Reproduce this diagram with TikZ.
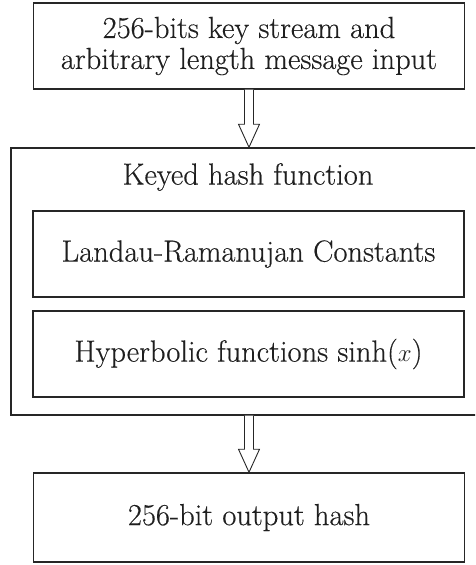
\documentclass[tikz,border=0pt]{standalone}
\usepackage{fontspec}
\setmainfont{Latin Modern Roman}[FakeBold=0.35]
\usetikzlibrary{calc}
\begin{document}
\begin{tikzpicture}[x=1pt,y=1pt,
  txt/.style={font=\fontsize{30.5}{31}\selectfont, text=black!88},
  box/.style={txt, draw=black!85, line width=1.5pt, minimum width=431pt, inner sep=0pt, align=center},
  harrow/.style={draw=black!85, line width=0.9pt, fill=white, line join=miter}]
\clip (0,0) rectangle (475,565);
\node[box, minimum height=86pt] (top) at (249,519) {256-bits key stream and\\arbitrary length message input};
\node[box, minimum width=467pt, minimum height=267pt] (outer) at (244.5,283.5) {};
\node[txt] (lbl) at (248,388) {Keyed hash function};
\node[box, minimum height=86pt] (in1) at (248.5,311) {Landau-Ramanujan Constants};
\node[box, minimum height=86pt] (in2) at (248.5,211) {Hyperbolic functions sinh($x$)};
\node[box, minimum height=89pt] (bot) at (249,47.5) {256-bit output hash};
% hollow arrows
\draw[harrow] let \p1=(top.south), \p2=(top.south |- outer.north) in
  (\x1-4.5,\y1) -- (\x1-4.5,\y2+23) -- (\x1-10.5,\y2+23) -- (\x2,\y2) -- (\x1+10.5,\y2+23) -- (\x1+4.5,\y2+23) -- (\x1+4.5,\y1);
\draw[harrow] let \p1=(bot.north |- outer.south), \p2=(bot.north) in
  (\x1-4.5,\y1) -- (\x1-4.5,\y2+23) -- (\x1-10.5,\y2+23) -- (\x2,\y2) -- (\x1+10.5,\y2+23) -- (\x1+4.5,\y2+23) -- (\x1+4.5,\y1);
\end{tikzpicture}
\end{document}
